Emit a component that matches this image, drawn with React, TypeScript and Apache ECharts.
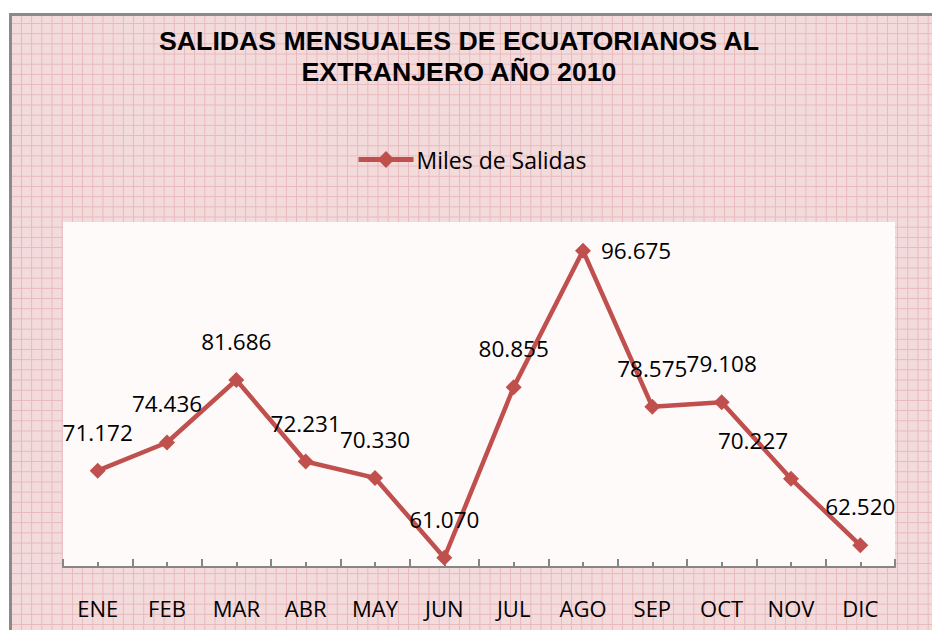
import React, { useEffect, useRef } from "react";
import * as echarts from "echarts";

const months = ["ENE", "FEB", "MAR", "ABR", "MAY", "JUN", "JUL", "AGO", "SEP", "OCT", "NOV", "DIC"];
const salidas = [71.172, 74.436, 81.686, 72.231, 70.33, 61.07, 80.855, 96.675, 78.575, 79.108, 70.227, 62.52];
const seriesName = "Miles de Salidas";
const titleText = "SALIDAS MENSUALES DE ECUATORIANOS AL\nEXTRANJERO AÑO 2010";

const RED = "#c0504d";
const FONT = "'Open Sans', 'Noto Sans', sans-serif";

export default function App() {
  const ref = useRef<HTMLDivElement>(null);

  useEffect(() => {
    if (!ref.current) return;
    const chart = echarts.init(ref.current, null, { renderer: "svg" });
    const data = salidas.map((v, i) => {
      const item: any = { value: v };
      if (months[i] === "AGO") item.label = { position: "right", distance: 10 };
      if (months[i] === "NOV") item.label = { offset: [-38, 0] };
      return item;
    });
    chart.setOption({
      animation: false,
      backgroundColor: "transparent",
      graphic: [
        {
          type: "text",
          x: 459,
          y: 25,
          style: {
            text: titleText,
            align: "center",
            verticalAlign: "top",
            font: "bold 26.7px 'Liberation Sans', Arial, sans-serif",
            lineHeight: 31,
            fill: "#000",
          },
        },
      ],
      legend: {
        left: 356,
        top: 148,
        padding: 0,
        itemWidth: 55,
        itemHeight: 21,
        itemGap: 10,
        lineStyle: { width: 5, color: RED },
        textStyle: { fontFamily: FONT, fontSize: 23, color: "#000", padding: [0, 0, 0, -2] },
        data: [seriesName],
      },
      grid: {
        left: 63,
        right: 37,
        top: 222,
        bottom: 63,
        show: true,
        backgroundColor: "#fefafa",
        borderWidth: 0,
        containLabel: false,
      },
      xAxis: [
        {
          type: "category",
          data: months,
          boundaryGap: true,
          axisLine: { show: true, lineStyle: { color: "#868686", width: 2 } },
          axisTick: { show: true, inside: true, length: 8, lineStyle: { color: "#868686", width: 2 } },
          axisLabel: { fontFamily: FONT, fontSize: 22, color: "#000", margin: 30, interval: 0 },
          splitLine: { show: false },
        },
        {
          type: "category",
          data: months,
          position: "bottom",
          boundaryGap: true,
          axisLine: { show: false },
          axisTick: { show: true, inside: true, length: 5, alignWithLabel: true, lineStyle: { color: "#868686", width: 2 } },
          axisLabel: { show: false },
          splitLine: { show: false },
        },
      ],
      yAxis: {
        type: "value",
        min: 60,
        max: 100,
        show: false,
        splitLine: { show: false },
      },
      series: [
        {
          name: seriesName,
          type: "line",
          data,
          symbol: "diamond",
          symbolSize: 16,
          lineStyle: { color: RED, width: 4.5 },
          itemStyle: { color: RED },
          label: {
            show: true,
            position: "top",
            distance: 19,
            fontFamily: FONT,
            fontSize: 22.5,
            color: "#000",
            formatter: (p: any) => Number(p.value).toFixed(3),
          },
        },
      ],
    });
    return () => chart.dispose();
  }, []);

  const pinkBg: React.CSSProperties = {
    position: "absolute",
    left: 9,
    top: 13,
    width: 940,
    height: 640,
    borderTop: "3px solid #8a8a8a",
    borderLeft: "3px solid #8a8a8a",
    backgroundColor: "#f3dadb",
    backgroundImage:
      "linear-gradient(to right, #e8b8bc 1px, transparent 1px), linear-gradient(to bottom, #e8b8bc 1px, transparent 1px)",
    backgroundSize: "10.2px 10.2px",
    backgroundPosition: "9px 7px",
  };

  return (
    <div style={{ position: "absolute", left: 0, top: 0, width: 932, height: 630, overflow: "hidden", background: "#fff" }}>
      <div style={pinkBg} />
      <div ref={ref} style={{ position: "absolute", left: 0, top: 0, width: 932, height: 630 }} />
    </div>
  );
}
